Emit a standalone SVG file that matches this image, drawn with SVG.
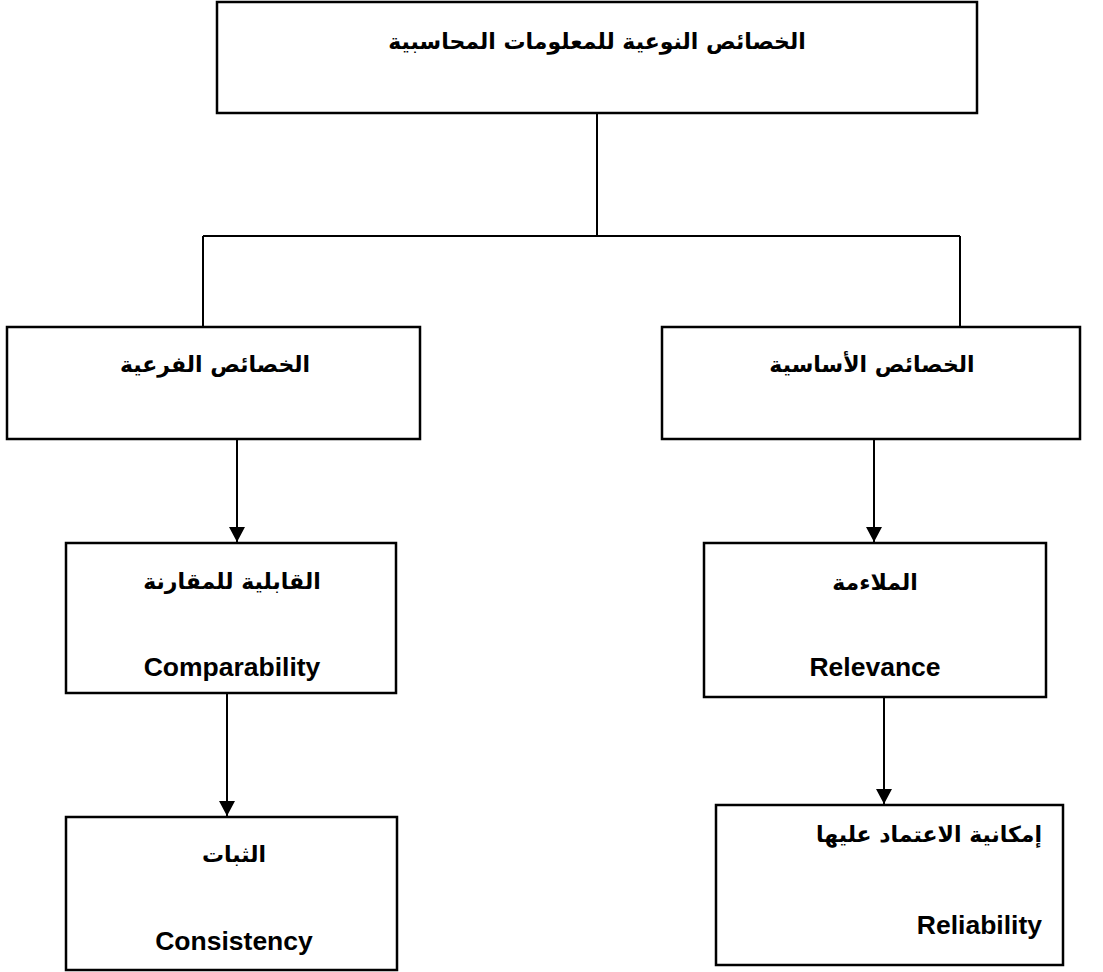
<svg xmlns="http://www.w3.org/2000/svg" width="1103" height="972" viewBox="0 0 1103 972">
<style>
.box{fill:#fff;stroke:#000;stroke-width:2.5}
.ln{fill:none;stroke:#000;stroke-width:2}
.ar{font-family:"DejaVu Sans","Liberation Sans",sans-serif;font-weight:bold;font-size:22px;fill:#000;text-anchor:middle}
.en{font-family:"Liberation Sans",Arial,sans-serif;font-weight:bold;font-size:26.5px;fill:#000;text-anchor:middle}
</style>
<defs>
<marker id="arr" markerWidth="15" markerHeight="16" refX="15" refY="8" orient="auto" markerUnits="userSpaceOnUse">
<path d="M0,0 L15,8 L0,16 Z" fill="#000"/>
</marker>
</defs>
<rect width="1103" height="972" fill="#fff"/>
<g id="connectors">
<path class="ln" d="M597,113 V236 M203,236 H960 M203,236 V327 M960,236 V327"/>
<path class="ln" d="M237,439 V542" marker-end="url(#arr)"/>
<path class="ln" d="M227,693 V816" marker-end="url(#arr)"/>
<path class="ln" d="M874,439 V542" marker-end="url(#arr)"/>
<path class="ln" d="M884,697 V804" marker-end="url(#arr)"/>
</g>
<g id="root">
<rect class="box" x="217" y="2" width="760" height="111"/>
<text class="ar" x="597" y="49">الخصائص النوعية للمعلومات المحاسبية</text>
</g>
<g id="sub">
<rect class="box" x="7" y="327" width="413" height="112"/>
<text class="ar" x="215" y="372">الخصائص الفرعية</text>
</g>
<g id="basic">
<rect class="box" x="662" y="327" width="418" height="112"/>
<text class="ar" x="872" y="372">الخصائص الأساسية</text>
</g>
<g id="comparability">
<rect class="box" x="66" y="543" width="330" height="150"/>
<text class="ar" x="232" y="589">القابلية للمقارنة</text>
<text class="en" x="232" y="676">Comparability</text>
</g>
<g id="consistency">
<rect class="box" x="66" y="817" width="331" height="153"/>
<text class="ar" x="234" y="862">الثبات</text>
<text class="en" x="234" y="950">Consistency</text>
</g>
<g id="relevance">
<rect class="box" x="704" y="543" width="342" height="154"/>
<text class="ar" x="875" y="590">الملاءمة</text>
<text class="en" x="875" y="676">Relevance</text>
</g>
<g id="reliability">
<rect class="box" x="716" y="805" width="347" height="160"/>
<text class="ar" x="1042" y="842" style="text-anchor:end">إمكانية الاعتماد عليها</text>
<text class="en" x="1042" y="934" style="text-anchor:end">Reliability</text>
</g>
</svg>
